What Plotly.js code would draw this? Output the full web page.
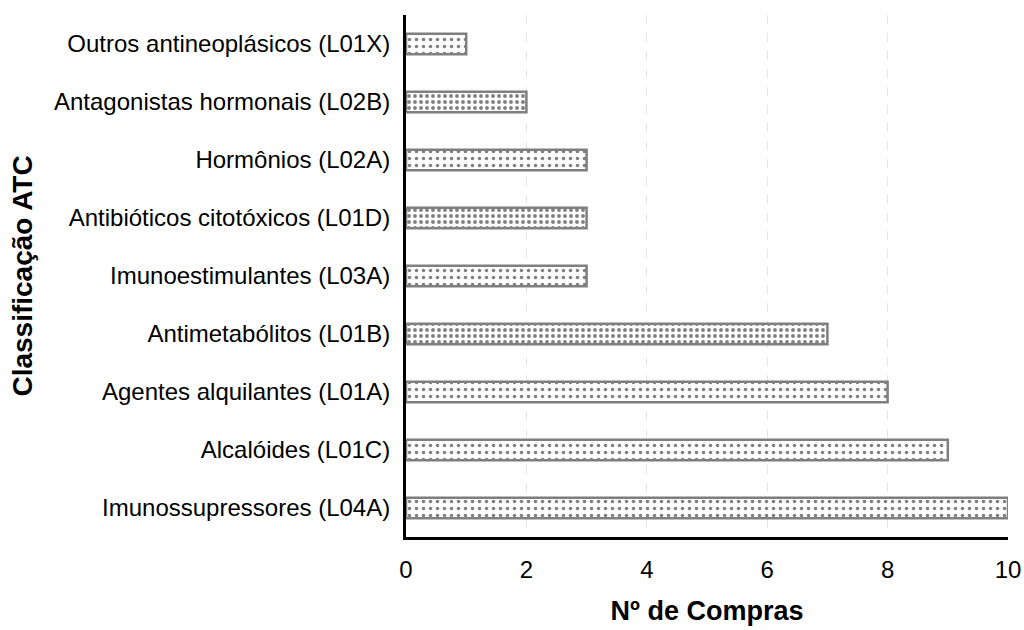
<!DOCTYPE html>
<html>
<head>
<meta charset="utf-8">
<script src="https://cdn.plot.ly/plotly-3.0.1.min.js"></script>
<style>
  html, body { margin: 0; padding: 0; background: #fff; }
  #chart { width: 1024px; height: 630px; }
</style>
</head>
<body>
<div id="chart"></div>
<script>
// ATC classes, listed bottom to top
const categories = [
  'Imunossupressores (L04A)',
  'Alcalóides (L01C)',
  'Agentes alquilantes (L01A)',
  'Antimetabólitos (L01B)',
  'Imunoestimulantes (L03A)',
  'Antibióticos citotóxicos (L01D)',
  'Hormônios (L02A)',
  'Antagonistas hormonais (L02B)',
  'Outros antineoplásicos (L01X)'
];
const purchases = [10, 9, 8, 7, 3, 3, 3, 2, 1];
const xTicks = [0, 2, 4, 6, 8, 10];

// dotted fill: a denser dot grid on every other bar of the upper group
const dense = categories.map((_, i) => i % 2 === 1 && i > 2);
const patSize = dense.map(d => d ? 6 : 7);
const patSolid = dense.map(d => d ? 0.32 : 0.2);

const trace = {
  type: 'bar',
  orientation: 'h',
  y: categories,
  x: purchases,
  width: 0.35,
  marker: {
    color: '#ffffff',
    line: { color: '#7f7f7f', width: 2.5 },
    pattern: {
      shape: '.',
      fgcolor: '#000000',
      bgcolor: '#ffffff',
      size: patSize,
      solidity: patSolid,
      fillmode: 'overlay'
    }
  },
  hoverinfo: 'x+y'
};

const font = { family: 'Liberation Sans, Arial, sans-serif', color: '#000' };

const layout = {
  width: 1024,
  height: 630,
  margin: { l: 406, r: 16, t: 15, b: 93 },
  paper_bgcolor: '#ffffff',
  plot_bgcolor: '#ffffff',
  font: font,
  showlegend: false,
  xaxis: {
    range: [0, 10],
    tickvals: xTicks,
    ticktext: xTicks.map(String),
    showgrid: true,
    gridcolor: '#e4e4e4',
    griddash: 'dash',
    gridwidth: 1,
    zeroline: false,
    showline: true,
    linecolor: '#000',
    linewidth: 3,
    ticks: '',
    ticklabelstandoff: 9,
    tickfont: { ...font, size: 24 },
    automargin: false,
    title: { text: '<b>Nº de Compras</b>', font: { ...font, size: 27 }, standoff: 20 }
  },
  yaxis: {
    type: 'category',
    categoryorder: 'array',
    categoryarray: categories,
    range: [-0.5, 8.5],
    showgrid: false,
    zeroline: false,
    showline: true,
    linecolor: '#000',
    linewidth: 3,
    ticks: '',
    ticklabelstandoff: 8,
    automargin: false,
    tickfont: { ...font, size: 24 },
    title: { text: '<b>Classificação ATC</b>', font: { ...font, size: 28 }, standoff: 14 }
  }
};

Plotly.newPlot('chart', [trace], layout, { staticPlot: true, displayModeBar: false });
</script>
</body>
</html>
